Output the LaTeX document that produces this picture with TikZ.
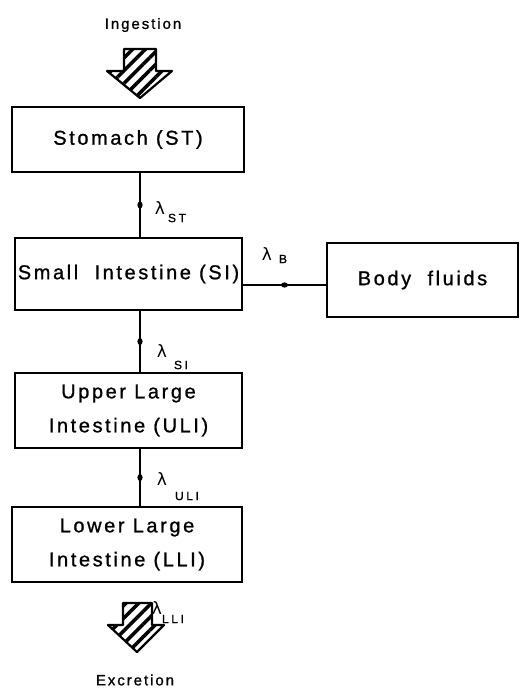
\documentclass[tikz,border=0pt]{standalone}
\usepackage{fontspec}
\setmainfont{Liberation Sans}[LetterSpace=13,FakeBold=1]
\newfontfamily\lamfont{DejaVu Sans}
\usetikzlibrary{patterns.meta,decorations.markings,arrows.meta}
\begin{document}
\begin{tikzpicture}[x=1pt,y=-1pt,
  box/.style={draw, line width=1.8pt, inner sep=0pt, align=center,
    font=\fontsize{20}{34}\selectfont},
  conn/.style={line width=2.6pt, postaction={decorate},
    decoration={markings, mark=at position 0.5 with {\fill (0,0) ellipse [x radius=3.5pt, y radius=2.6pt];}}},
  lam/.style={inner sep=0pt, font=\lamfont\fontsize{17}{17}\selectfont},
  lsub/.style={inner sep=0pt, font=\fontsize{12}{12}\selectfont\addfontfeature{LetterSpace=22}},
  lbl/.style={inner sep=0pt, font=\fontsize{15}{15}\selectfont},
  hatch/.style={line width=2.2pt, line join=round,
    pattern={Lines[angle=45,distance=9pt,line width=3.5pt]}}
]
\useasboundingbox (0,0) rectangle (520,691);

% ingestion / excretion arrows
\draw[hatch] (124,49) -- (156,49) -- (156,71) -- (172,71) -- (140,98) -- (107,71) -- (124,71) -- cycle;
\draw[hatch] (123,603) -- (152,603) -- (152,625) -- (164,625) -- (137,652) -- (108,625) -- (123,625) -- cycle;

% boxes
\node[box, minimum width=232pt, minimum height=65pt] (st) at (128,139.5) {Stomach (ST)};
\node[box, minimum width=227pt, minimum height=72pt] (si) at (128.5,274) {Small\ \ Intestine (SI)};
\node[box, minimum width=191pt, minimum height=74pt] (bf) at (422.5,280) {Body\ \ fluids};
\node[box, minimum width=227pt, minimum height=75pt] (uli) at (128.5,410.5) {Upper Large\\Intestine (ULI)};
\node[box, minimum width=230pt, minimum height=75pt] (lli) at (127,544.5) {Lower Large\\Intestine (LLI)};

% connectors
\coordinate (cx) at (140,0);
\draw[conn] (st.south -| cx) -- (si.north -| cx);
\draw[conn] (si.south -| cx) -- (uli.north -| cx);
\draw[conn] (uli.south -| cx) -- (lli.north -| cx);
\coordinate (cy) at (0,285);
\draw[conn] (si.east |- cy) -- (bf.west |- cy);

% rate labels
\node[lam] (lst) at (160,208) {λ};
\node[lsub] (lsts) at (177,218) {ST};
\node[lam] (lb) at (267,254) {λ};
\node[lsub] (lbs) at (283,259) {B};
\node[lam] (lsi) at (162,351) {λ};
\node[lsub] (lsis) at (181,365) {SI};
\node[lam] (luli) at (162,479) {λ};
\node[lsub] (lulis) at (187,496) {ULI};
\node[lam] (llli) at (157,608) {λ};
\node[lsub] (llis) at (173,619) {LLI};

% labels
\node[lbl] (ing) at (143,25) {Ingestion};
\node[lbl] (exc) at (135,680) {Excretion};
\end{tikzpicture}
\end{document}
